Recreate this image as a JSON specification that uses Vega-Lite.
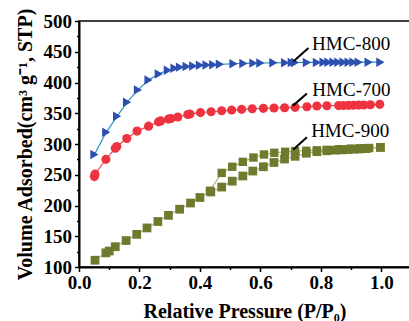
{
  "$schema": "https://vega.github.io/schema/vega-lite/v6.json",
  "autosize": "none",
  "padding": {"left": 79, "top": 21, "right": 0, "bottom": 54},
  "width": 331,
  "height": 246,
  "background": "white",
  "config": {
    "view": {"stroke": "black", "strokeWidth": 1.5},
    "axis": {
      "grid": false,
      "domainColor": "black",
      "domainWidth": 2,
      "tickColor": "black",
      "tickWidth": 1.5,
      "labelFont": "Liberation Serif",
      "labelFontWeight": "bold",
      "labelFontSize": 19,
      "labelColor": "black",
      "titleFont": "Liberation Serif",
      "titleFontWeight": "bold",
      "titleFontSize": 20,
      "titleColor": "black",
      "labelOverlap": false,
      "labelFlush": false
    }
  },
  "datasets": {
    "series": [
      {"s": "HMC-800", "p": 0.051, "v": 283}, {"s": "HMC-800", "p": 0.090, "v": 319}, {"s": "HMC-800", "p": 0.126, "v": 345}, {"s": "HMC-800", "p": 0.159, "v": 368}, {"s": "HMC-800", "p": 0.195, "v": 388}, {"s": "HMC-800", "p": 0.230, "v": 404}, {"s": "HMC-800", "p": 0.264, "v": 414}, {"s": "HMC-800", "p": 0.294, "v": 420}, {"s": "HMC-800", "p": 0.316, "v": 423}, {"s": "HMC-800", "p": 0.334, "v": 425}, {"s": "HMC-800", "p": 0.356, "v": 426}, {"s": "HMC-800", "p": 0.378, "v": 427}, {"s": "HMC-800", "p": 0.400, "v": 428}, {"s": "HMC-800", "p": 0.422, "v": 428.5}, {"s": "HMC-800", "p": 0.444, "v": 429}, {"s": "HMC-800", "p": 0.466, "v": 429.5}, {"s": "HMC-800", "p": 0.511, "v": 430.5}, {"s": "HMC-800", "p": 0.544, "v": 431}, {"s": "HMC-800", "p": 0.577, "v": 431.5}, {"s": "HMC-800", "p": 0.600, "v": 431.7}, {"s": "HMC-800", "p": 0.643, "v": 432}, {"s": "HMC-800", "p": 0.682, "v": 432.2}, {"s": "HMC-800", "p": 0.704, "v": 432.4}, {"s": "HMC-800", "p": 0.715, "v": 432.5}, {"s": "HMC-800", "p": 0.754, "v": 432.6}, {"s": "HMC-800", "p": 0.787, "v": 432.7}, {"s": "HMC-800", "p": 0.809, "v": 432.8}, {"s": "HMC-800", "p": 0.825, "v": 432.8}, {"s": "HMC-800", "p": 0.842, "v": 432.9}, {"s": "HMC-800", "p": 0.858, "v": 432.9}, {"s": "HMC-800", "p": 0.875, "v": 433}, {"s": "HMC-800", "p": 0.892, "v": 433}, {"s": "HMC-800", "p": 0.908, "v": 433}, {"s": "HMC-800", "p": 0.925, "v": 433}, {"s": "HMC-800", "p": 0.958, "v": 433}, {"s": "HMC-800", "p": 0.997, "v": 433},
      {"s": "HMC-700", "p": 0.051, "v": 247}, {"s": "HMC-700", "p": 0.053, "v": 251}, {"s": "HMC-700", "p": 0.089, "v": 275}, {"s": "HMC-700", "p": 0.120, "v": 293}, {"s": "HMC-700", "p": 0.125, "v": 296}, {"s": "HMC-700", "p": 0.158, "v": 309}, {"s": "HMC-700", "p": 0.192, "v": 321}, {"s": "HMC-700", "p": 0.230, "v": 329}, {"s": "HMC-700", "p": 0.263, "v": 336}, {"s": "HMC-700", "p": 0.270, "v": 337.5}, {"s": "HMC-700", "p": 0.296, "v": 340.5}, {"s": "HMC-700", "p": 0.304, "v": 341.5}, {"s": "HMC-700", "p": 0.327, "v": 344}, {"s": "HMC-700", "p": 0.360, "v": 348}, {"s": "HMC-700", "p": 0.367, "v": 348.7}, {"s": "HMC-700", "p": 0.402, "v": 351}, {"s": "HMC-700", "p": 0.437, "v": 352.4}, {"s": "HMC-700", "p": 0.472, "v": 354}, {"s": "HMC-700", "p": 0.505, "v": 355.2}, {"s": "HMC-700", "p": 0.538, "v": 356.3}, {"s": "HMC-700", "p": 0.573, "v": 357.3}, {"s": "HMC-700", "p": 0.610, "v": 358}, {"s": "HMC-700", "p": 0.645, "v": 358.5}, {"s": "HMC-700", "p": 0.680, "v": 359}, {"s": "HMC-700", "p": 0.715, "v": 359.6}, {"s": "HMC-700", "p": 0.754, "v": 360.6}, {"s": "HMC-700", "p": 0.787, "v": 361.7}, {"s": "HMC-700", "p": 0.820, "v": 362.2}, {"s": "HMC-700", "p": 0.859, "v": 362.5}, {"s": "HMC-700", "p": 0.875, "v": 362.7}, {"s": "HMC-700", "p": 0.892, "v": 362.9}, {"s": "HMC-700", "p": 0.908, "v": 363.1}, {"s": "HMC-700", "p": 0.925, "v": 363.3}, {"s": "HMC-700", "p": 0.942, "v": 363.5}, {"s": "HMC-700", "p": 0.964, "v": 363.8}, {"s": "HMC-700", "p": 0.995, "v": 364.5},
      {"s": "HMC-900a", "p": 0.053, "v": 111}, {"s": "HMC-900a", "p": 0.089, "v": 123}, {"s": "HMC-900a", "p": 0.100, "v": 126}, {"s": "HMC-900a", "p": 0.120, "v": 133}, {"s": "HMC-900a", "p": 0.156, "v": 143}, {"s": "HMC-900a", "p": 0.191, "v": 153}, {"s": "HMC-900a", "p": 0.225, "v": 163.5}, {"s": "HMC-900a", "p": 0.261, "v": 174}, {"s": "HMC-900a", "p": 0.296, "v": 184}, {"s": "HMC-900a", "p": 0.333, "v": 194}, {"s": "HMC-900a", "p": 0.369, "v": 204}, {"s": "HMC-900a", "p": 0.400, "v": 213}, {"s": "HMC-900a", "p": 0.436, "v": 222}, {"s": "HMC-900a", "p": 0.472, "v": 230}, {"s": "HMC-900a", "p": 0.507, "v": 239.6}, {"s": "HMC-900a", "p": 0.542, "v": 248}, {"s": "HMC-900a", "p": 0.575, "v": 256}, {"s": "HMC-900a", "p": 0.610, "v": 263}, {"s": "HMC-900a", "p": 0.645, "v": 270}, {"s": "HMC-900a", "p": 0.680, "v": 275.5}, {"s": "HMC-900a", "p": 0.715, "v": 280}, {"s": "HMC-900a", "p": 0.752, "v": 285}, {"s": "HMC-900a", "p": 0.787, "v": 287.5}, {"s": "HMC-900a", "p": 0.820, "v": 289}, {"s": "HMC-900a", "p": 0.848, "v": 290}, {"s": "HMC-900a", "p": 0.870, "v": 290.5}, {"s": "HMC-900a", "p": 0.890, "v": 291}, {"s": "HMC-900a", "p": 0.910, "v": 291.5}, {"s": "HMC-900a", "p": 0.930, "v": 292}, {"s": "HMC-900a", "p": 0.950, "v": 292.5}, {"s": "HMC-900a", "p": 0.997, "v": 294.5},
      {"s": "HMC-900d", "p": 0.997, "v": 294.5}, {"s": "HMC-900d", "p": 0.960, "v": 293.5}, {"s": "HMC-900d", "p": 0.930, "v": 293}, {"s": "HMC-900d", "p": 0.900, "v": 292.5}, {"s": "HMC-900d", "p": 0.860, "v": 291.5}, {"s": "HMC-900d", "p": 0.820, "v": 290.5}, {"s": "HMC-900d", "p": 0.787, "v": 289.8}, {"s": "HMC-900d", "p": 0.752, "v": 289}, {"s": "HMC-900d", "p": 0.715, "v": 288.4}, {"s": "HMC-900d", "p": 0.682, "v": 287.3}, {"s": "HMC-900d", "p": 0.646, "v": 285.7}, {"s": "HMC-900d", "p": 0.612, "v": 283}, {"s": "HMC-900d", "p": 0.577, "v": 278}, {"s": "HMC-900d", "p": 0.542, "v": 271}, {"s": "HMC-900d", "p": 0.507, "v": 263}, {"s": "HMC-900d", "p": 0.472, "v": 253}, {"s": "HMC-900d", "p": 0.433, "v": 224}
    ],
    "leaders": [
      {"t": "HMC-800", "p": 0.709, "v": 434}, {"t": "HMC-800", "p": 0.759, "v": 456},
      {"t": "HMC-700", "p": 0.707, "v": 362}, {"t": "HMC-700", "p": 0.754, "v": 382},
      {"t": "HMC-900", "p": 0.709, "v": 291}, {"t": "HMC-900", "p": 0.754, "v": 311}
    ],
    "labels": [
      {"t": "HMC-800", "p": 0.771, "v": 453},
      {"t": "HMC-700", "p": 0.772, "v": 378},
      {"t": "HMC-900", "p": 0.768, "v": 311.7}
    ]
  },
  "encoding": {
    "x": {
      "field": "p", "type": "quantitative",
      "scale": {"domain": [0, 1.095], "nice": false, "zero": false},
      "axis": {
        "title": "Relative Pressure (P/P₀)",
        "values": [0, 0.1, 0.2, 0.3, 0.4, 0.5, 0.6, 0.7, 0.8, 0.9, 1.0],
        "labelExpr": "round(datum.value*10) % 2 == 1 ? '' : format(datum.value, '.1f')",
        "tickSize": {"condition": {"test": "round(datum.value*10) % 2 == 1", "value": 2.5}, "value": 4.5},
        "labelOverlap": false,
        "labelPadding": 2,
        "titlePadding": 9
      }
    },
    "y": {
      "field": "v", "type": "quantitative",
      "scale": {"domain": [100, 500], "nice": false, "zero": false},
      "axis": {
        "title": "Volume Adsorbed(cm³ g⁻¹, STP)",
        "values": [100, 125, 150, 175, 200, 225, 250, 275, 300, 325, 350, 375, 400, 425, 450, 475, 500],
        "labelExpr": "datum.value % 50 == 25 ? '' : format(datum.value, 'd')",
        "tickSize": {"condition": {"test": "datum.value % 50 == 25", "value": 2.5}, "value": 4.5},
        "labelOverlap": false,
        "labelPadding": 3,
        "titlePadding": 8
      }
    }
  },
  "resolve": {"scale": {"color": "independent"}},
  "layer": [
    {
      "data": {"name": "series"},
      "mark": {"type": "line", "strokeWidth": 1.2},
      "encoding": {
        "color": {
          "field": "s", "type": "nominal", "legend": null,
          "scale": {"domain": ["HMC-800", "HMC-700", "HMC-900a", "HMC-900d"], "range": ["#2b93c4", "#ee4a55", "#d59ac8", "#b7ae60"]}
        },
        "detail": {"field": "s"}
      }
    },
    {
      "data": {"name": "series"},
      "mark": {"type": "point", "filled": true, "opacity": 1, "strokeWidth": 0},
      "encoding": {
        "color": {
          "field": "s", "type": "nominal", "legend": null,
          "scale": {"domain": ["HMC-800", "HMC-700", "HMC-900a", "HMC-900d"], "range": ["#2d4fb0", "#ee3340", "#6f7a2c", "#6f7a2c"]}
        },
        "shape": {
          "field": "s", "type": "nominal", "legend": null,
          "scale": {"domain": ["HMC-800", "HMC-700", "HMC-900a", "HMC-900d"], "range": ["triangle-right", "circle", "square", "square"]}
        },
        "size": {
          "field": "s", "type": "nominal", "legend": null,
          "scale": {"domain": ["HMC-800", "HMC-700", "HMC-900a", "HMC-900d"], "range": [90, 70, 60, 60]}
        }
      }
    },
    {
      "data": {"name": "leaders"},
      "mark": {"type": "line", "color": "black", "strokeWidth": 2},
      "encoding": {
        "detail": {"field": "t"}
      }
    },
    {
      "data": {"name": "labels"},
      "mark": {"type": "text", "font": "Liberation Serif", "fontSize": 19, "align": "left", "baseline": "alphabetic", "color": "black"},
      "encoding": {
        "text": {"field": "t"}
      }
    }
  ]
}
